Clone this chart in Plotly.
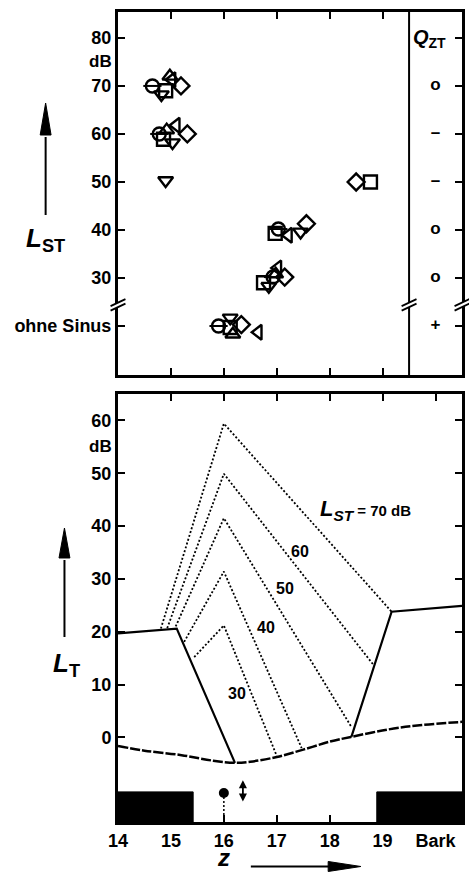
import plotly.graph_objects as go

# ---------------- data ----------------
# Top panel: tone-pitch matches (z in Bark) for each sinusoid level L_ST (20 = "ohne Sinus")
circle_z = [14.65, 14.78, 17.03, 16.93, 15.90]
circle_L = [70.0, 60.0, 40.2, 30.2, 20.0]
square_z = [14.90, 14.86, 18.77, 16.97, 16.75, 16.12]
square_L = [69.0, 58.9, 50.0, 39.3, 29.0, 19.7]
diamond_z = [15.19, 15.31, 18.50, 17.56, 17.15, 16.33]
diamond_L = [70.0, 60.0, 50.0, 41.3, 30.2, 20.3]
tri_left_z = [15.02, 15.10, 17.22, 17.02, 16.65]
tri_left_L = [71.3, 61.8, 38.9, 32.1, 18.7]
tri_down_z = [14.82, 15.03, 14.90, 17.45, 16.85, 16.12]
tri_down_L = [68.2, 58.2, 50.3, 39.6, 28.3, 21.7]
tri_up_z = [14.98, 14.92, 16.98, 16.17]
tri_up_L = [72.0, 60.8, 30.8, 18.3]

top_tick_vals = [20, 30, 40, 50, 60, 70, 80]
top_tick_text = ["ohne Sinus", "30", "40", "50", "60", "70", "80"]
qzt_levels = [70, 60, 50, 40, 30, 20]
qzt_marks = ["o", "–", "–", "o", "o", "+"]
qzt_z = 20.0
divider_z = 19.5
break_level = 24.4

# Bottom panel: masked thresholds
sinus_levels = [70, 60, 50, 40, 30]
sinus_label_z = [18.68, 17.44, 17.16, 16.79, 16.25]
sinus_label_L = [43.0, 35.1, 28.2, 20.9, 8.4]
left_foot_z = [14.81, 14.93, 15.09, 15.25, 15.44]
left_foot_L = [20.6, 20.7, 21.0, 18.1, 15.2]
peak_z = [16.0, 16.0, 16.0, 16.0, 16.0]
peak_L = [59.4, 49.9, 41.5, 31.4, 21.2]
right_foot_z = [19.17, 18.83, 18.41, 17.47, 17.00]
right_foot_L = [23.8, 13.7, 2.0, -2.0, -3.5]

noise_left_z = [14.0, 15.11, 16.21]
noise_left_L = [19.7, 20.6, -4.8]
noise_right_z = [18.41, 19.17, 20.5]
noise_right_L = [0.1, 23.8, 24.9]

quiet_z = [14.0, 14.5, 15.2, 15.8, 16.2, 16.5, 17.0, 17.5, 18.0, 18.4, 19.1, 19.7, 20.5]
quiet_L = [-1.6, -2.5, -3.35, -4.4, -4.8, -4.6, -3.7, -2.3, -0.8, 0.1, 1.5, 2.3, 2.95]

band_z = [(14.0, 15.42), (18.89, 20.5)]
band_top = -10.3
axis_bottom = -16.0
tone_z = 16.0
tone_L = -10.5
var_z = 16.36
var_L = (-8.1, -12.4)

bottom_tick_vals = [14, 15, 16, 17, 18, 19, 20]
bottom_tick_text = ["14", "15", "16", "17", "18", "19", "Bark"]

# ---------------- layout geometry ----------------
W, H = 469, 872
ML, MR, MT, MB = 118, 4, 12, 50
PW, PH = W - ML - MR, H - MT - MB


def px(x):
    return (x - ML) / PW


def py(y):
    return (H - MB - y) / PH


FONT = "Liberation Sans, Arial, sans-serif"
BLK = "black"

fig = go.Figure()

# ---- top panel markers ----
series = [
    (circle_z, circle_L, "circle-open"),
    (square_z, square_L, "square-open"),
    (diamond_z, diamond_L, "diamond-open"),
    (tri_left_z, tri_left_L, "triangle-left-open"),
    (tri_down_z, tri_down_L, "triangle-down-open"),
    (tri_up_z, tri_up_L, "triangle-up-open"),
]
for zs, ls, sym in series:
    fig.add_trace(go.Scatter(x=zs, y=ls, mode="markers", xaxis="x", yaxis="y",
                             marker=dict(symbol=sym, size=13, color=BLK,
                                         line=dict(color=BLK, width=2.4)),
                             showlegend=False, hoverinfo="skip"))
fig.add_trace(go.Scatter(x=circle_z, y=circle_L, mode="markers", xaxis="x", yaxis="y",
                         marker=dict(symbol="line-ew-open", size=13, color=BLK,
                                     line=dict(color=BLK, width=2)),
                         showlegend=False, hoverinfo="skip"))

fig.add_trace(go.Scatter(x=[qzt_z] * len(qzt_levels), y=qzt_levels, mode="text",
                         text=qzt_marks, xaxis="x", yaxis="y",
                         textfont=dict(family=FONT, size=17, color=BLK, weight="bold"),
                         showlegend=False, hoverinfo="skip"))

# ---- bottom panel ----
for (z0, z1) in band_z:
    fig.add_trace(go.Scatter(x=[z0, z1, z1, z0, z0],
                             y=[axis_bottom, axis_bottom, band_top, band_top, axis_bottom],
                             mode="lines", fill="toself", fillcolor=BLK,
                             line=dict(color=BLK, width=1), xaxis="x2", yaxis="y2",
                             showlegend=False, hoverinfo="skip"))

for i in range(len(sinus_levels)):
    fig.add_trace(go.Scatter(x=[left_foot_z[i], peak_z[i], right_foot_z[i]],
                             y=[left_foot_L[i], peak_L[i], right_foot_L[i]],
                             mode="lines", line=dict(color=BLK, width=1.8, dash="2px,2px"),
                             xaxis="x2", yaxis="y2", showlegend=False, hoverinfo="skip"))

fig.add_trace(go.Scatter(x=quiet_z, y=quiet_L, mode="lines",
                         line=dict(color=BLK, width=2.5, dash="10px,2px", shape="spline"),
                         xaxis="x2", yaxis="y2", showlegend=False, hoverinfo="skip"))
for zs, ls in [(noise_left_z, noise_left_L), (noise_right_z, noise_right_L)]:
    fig.add_trace(go.Scatter(x=zs, y=ls, mode="lines", line=dict(color=BLK, width=2.2),
                             xaxis="x2", yaxis="y2", showlegend=False, hoverinfo="skip"))

fig.add_trace(go.Scatter(x=[tone_z, tone_z], y=[tone_L, axis_bottom], mode="lines",
                         line=dict(color=BLK, width=1.5, dash="2px,2px"),
                         xaxis="x2", yaxis="y2", showlegend=False, hoverinfo="skip"))
fig.add_trace(go.Scatter(x=[tone_z], y=[tone_L], mode="markers",
                         marker=dict(symbol="circle", size=10, color=BLK),
                         xaxis="x2", yaxis="y2", showlegend=False, hoverinfo="skip"))

annotations = []
shapes = []

# variable-level arrow
annotations.append(dict(x=var_z, y=var_L[0], ax=var_z, ay=var_L[1], xref="x2", yref="y2",
                        axref="x2", ayref="y2", showarrow=True, arrowside="end+start",
                        arrowhead=2, arrowsize=0.9, arrowwidth=1.8, arrowcolor=BLK, text=""))

# level labels in lower panel
for i, lev in enumerate(sinus_levels):
    if i == 0:
        txt = ("<i>L<sub>ST</sub></i>"
               "<span style='font-size:15px'> = %d dB</span>" % lev)
        size = 22
    else:
        txt = str(lev)
        size = 16
    annotations.append(dict(x=sinus_label_z[i], y=sinus_label_L[i], xref="x2", yref="y2",
                            text=txt, showarrow=False, xanchor="center", yanchor="middle",
                            font=dict(family=FONT, size=size, color=BLK, weight="bold")))

# dB labels
annotations.append(dict(x=0, y=75, xref="paper", yref="y", xanchor="right", yanchor="middle",
                        xshift=-4, text="dB", showarrow=False,
                        font=dict(family=FONT, size=17, color=BLK, weight="bold")))
annotations.append(dict(x=0, y=55, xref="paper", yref="y2", xanchor="right", yanchor="middle",
                        xshift=-4, text="dB", showarrow=False,
                        font=dict(family=FONT, size=17, color=BLK, weight="bold")))

# Q_ZT header
annotations.append(dict(x=qzt_z, y=py(38), xref="x", yref="paper", xanchor="center",
                        yanchor="middle", xshift=-6, text="<i>Q</i><sub>ZT</sub>",
                        showarrow=False,
                        font=dict(family=FONT, size=20, color=BLK, weight="bold")))

# axis title labels
lab_font = dict(family=FONT, size=26, color=BLK, weight="bold")
annotations.append(dict(x=px(45), y=py(240), xref="paper", yref="paper", xanchor="center",
                        yanchor="middle", text="<i>L</i><sub>ST</sub>", showarrow=False,
                        font=lab_font))
annotations.append(dict(x=px(66), y=py(664), xref="paper", yref="paper", xanchor="center",
                        yanchor="middle", text="<i>L</i><sub>T</sub>", showarrow=False,
                        font=lab_font))
annotations.append(dict(x=px(224), y=py(872), xref="paper", yref="paper", xanchor="center",
                        yanchor="bottom", text="<i>z</i>", showarrow=False, borderpad=0,
                        font=dict(family=FONT, size=24, color=BLK, weight="bold")))


def vert_arrow(x, y_tip, y_base, y_tail):
    shapes.append(dict(type="line", xref="paper", yref="paper",
                       x0=px(x), x1=px(x), y0=py(y_tail), y1=py(y_base + 2),
                       line=dict(color=BLK, width=2)))
    shapes.append(dict(type="path", xref="paper", yref="paper",
                       path="M %f %f L %f %f L %f %f Z" % (px(x), py(y_tip), px(x - 5.5), py(y_base),
                                                           px(x + 5.5), py(y_base)),
                       fillcolor=BLK, line=dict(color=BLK, width=1)))


vert_arrow(45, 103, 135, 215)
vert_arrow(64, 528, 558, 637)
# horizontal z arrow
shapes.append(dict(type="line", xref="paper", yref="paper", x0=px(252), x1=px(332),
                   y0=py(866.5), y1=py(866.5), line=dict(color=BLK, width=2)))
shapes.append(dict(type="path", xref="paper", yref="paper",
                   path="M %f %f L %f %f L %f %f Z" % (px(363), py(866.5), px(330), py(861.5),
                                                       px(330), py(871.5)),
                   fillcolor=BLK, line=dict(color=BLK, width=1)))

# divider line in top panel
shapes.append(dict(type="line", xref="x", yref="y domain", x0=divider_z, x1=divider_z,
                   y0=0, y1=1, line=dict(color=BLK, width=2)))

# axis breaks
dxd = 7.5 / PW
dy = 3.5 / 4.8
gap = 4.5 / 4.8
for xd in [0.0, (divider_z - 14) / 6.5, 1.0]:
    lo0 = break_level - gap / 2 - dy
    lo1 = break_level - gap / 2 + dy
    hi0 = break_level + gap / 2 - dy
    hi1 = break_level + gap / 2 + dy
    shapes.append(dict(type="path", xref="x domain", yref="y", layer="above",
                       path="M %f %f L %f %f L %f %f L %f %f Z" % (
                           xd - dxd * 0.6, lo0 + dy * 0.4, xd + dxd * 0.6, lo1 - dy * 0.4,
                           xd + dxd * 0.6, hi1 - dy * 0.4, xd - dxd * 0.6, hi0 + dy * 0.4),
                       fillcolor="white", line=dict(width=0)))
    for a0, a1 in [(lo0, lo1), (hi0, hi1)]:
        shapes.append(dict(type="line", xref="x domain", yref="y", layer="above",
                           x0=xd - dxd, x1=xd + dxd, y0=a0, y1=a1,
                           line=dict(color=BLK, width=1.8)))

axis_common = dict(showline=True, linewidth=3, linecolor=BLK, mirror="ticks",
                   ticks="inside", ticklen=7, tickwidth=2, tickcolor=BLK,
                   showgrid=False, zeroline=False,
                   tickfont=dict(family=FONT, size=18, color=BLK, weight="bold"))

fig.update_layout(
    width=W, height=H,
    margin=dict(l=ML, r=MR, t=MT, b=MB),
    paper_bgcolor="white", plot_bgcolor="white",
    showlegend=False,
    xaxis=dict(domain=[0, 1], range=[14, 20.5], anchor="y", tickvals=[15, 16, 17, 18, 19],
               showticklabels=False, **axis_common),
    yaxis=dict(domain=[py(375), 1], range=[9.8, 85.4], anchor="x",
               tickvals=top_tick_vals, ticktext=top_tick_text, **axis_common),
    xaxis2=dict(domain=[0, 1], range=[14, 20.5], anchor="y2", tickvals=bottom_tick_vals,
                ticktext=bottom_tick_text, **axis_common),
    yaxis2=dict(domain=[0, py(394)], range=[-16, 65], anchor="x2",
                tickvals=[0, 10, 20, 30, 40, 50, 60], **axis_common),
    annotations=annotations,
    shapes=shapes,
)

fig.write_html("out.html", config={"displayModeBar": False},
               post_script="document.body.style.margin='0';")
